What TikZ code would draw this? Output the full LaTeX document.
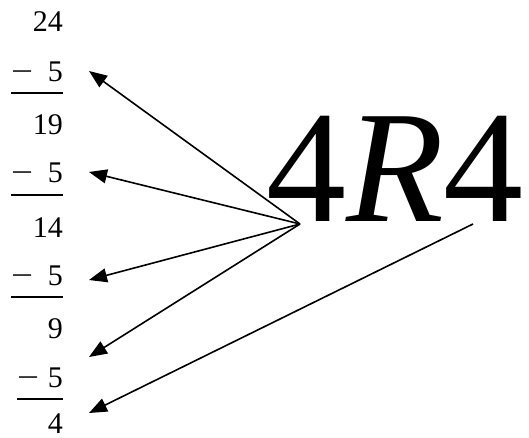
\documentclass[tikz,border=0pt]{standalone}
\usepackage{fontspec}
\setmainfont{Liberation Serif}
\usetikzlibrary{arrows.meta}

\begin{document}
\begin{tikzpicture}[x=1pt, y=-1pt,
    num/.style={inner sep=0pt, font=\fontsize{30}{30}\selectfont, anchor=base east},
    sgn/.style={inner sep=0pt, font=\fontsize{30}{30}\selectfont, anchor=base west},
    bar/.style={line width=1.4pt},
    arr/.style={-{Triangle[length=18pt, width=14pt]}, line width=1.6pt},
]
\useasboundingbox (0,0) rectangle (529,438);

% Repeated subtraction column
\node[num] (n24) at (63, 32) {24};
\node[sgn] (m1) at (11, 82) {\scalebox{1.3}[1]{−}};
\node[num] (f1) at (63, 82) {5};
\node[num] (n19) at (63, 135) {19};
\node[sgn] (m2) at (11, 183) {\scalebox{1.3}[1]{−}};
\node[num] (f2) at (63, 183) {5};
\node[num] (n14) at (63, 237) {14};
\node[sgn] (m3) at (11, 285) {\scalebox{1.3}[1]{−}};
\node[num] (f3) at (63, 285) {5};
\node[num] (n9) at (63, 338) {9};
\node[sgn] (m4) at (17, 387) {\scalebox{1.3}[1]{−}};
\node[num] (f4) at (63, 387) {5};
\node[num] (n4) at (63, 433) {4};

\draw[bar] ([yshift=-11pt]m1.base west) -- ([yshift=-11pt]f1.base east);
\draw[bar] ([yshift=-12pt]m2.base west) -- ([yshift=-12pt]f2.base east);
\draw[bar] ([yshift=-12pt]m3.base west) -- ([yshift=-12pt]f3.base east);
\draw[bar] ([yshift=-12pt]m4.base west) -- ([yshift=-12pt]f4.base east);

% Result
\node[inner sep=0pt, anchor=base west, font=\fontsize{160}{160}\selectfont] (res) at (266, 221) {4\textit{R}4};

\coordinate (hub) at (300, 224);
\coordinate (tail) at (473, 224);
\coordinate (t1) at (89, 71);
\coordinate (t2) at (89, 172);
\coordinate (t3) at (89, 280);
\coordinate (t4) at (89, 357);
\coordinate (t5) at (89, 413);

\foreach \t in {t1,t2,t3,t4}
    \draw[arr] (hub) -- (\t);
\draw[arr] (tail) -- (t5);

\end{tikzpicture}
\end{document}
